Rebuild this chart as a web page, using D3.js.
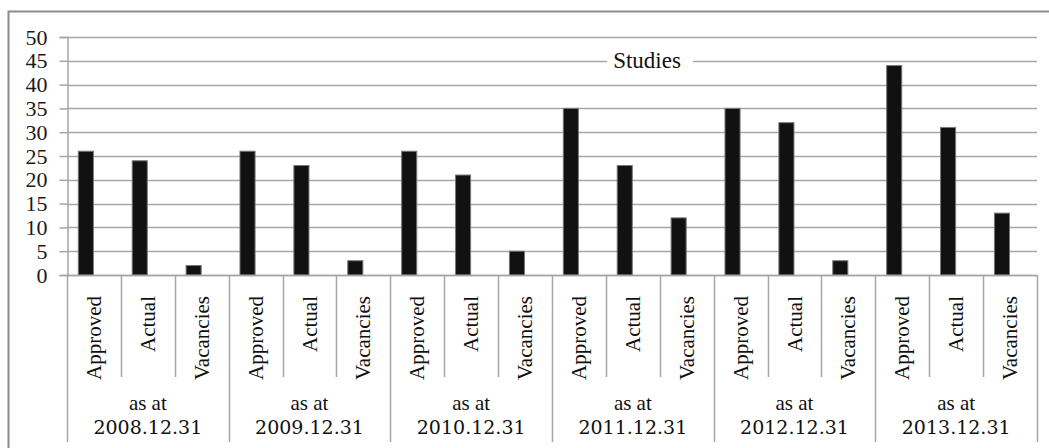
<!DOCTYPE html>
<html>
<head>
<meta charset="utf-8">
<script src="https://cdn.jsdelivr.net/npm/d3@7"></script>
<style>
  html, body { margin: 0; padding: 0; background: #fff; }
  svg { display: block; }
  .serif { font-family: 'Liberation Serif', 'DejaVu Serif', 'Times New Roman', Times, serif; }
  .dserif { font-family: 'DejaVu Serif', 'Liberation Serif', serif; }
</style>
</head>
<body>
<div id="chart"></div>
<script>
// Data
const dates = ['2008.12.31', '2009.12.31', '2010.12.31', '2011.12.31', '2012.12.31', '2013.12.31'];
const kinds = ['Approved', 'Actual', 'Vacancies'];
const approved = [26, 26, 26, 35, 35, 44];
const actual = [24, 23, 21, 23, 32, 31];
const vacancies = [2, 3, 5, 12, 3, 13];
const yTicks = [0, 5, 10, 15, 20, 25, 30, 35, 40, 45, 50];
const title = 'Studies';

const W = 1049, H = 448;
const plot = { left: 67, right: 1037, top: 37, bottom: 275 };

// flatten into 18 categories
const rows = [];
dates.forEach((d, gi) => {
    [approved, actual, vacancies].forEach((series, ki) => {
        rows.push({ key: gi + '-' + ki, group: gi, kind: kinds[ki], value: series[gi] });
    });
});

const svg = d3.select('#chart').append('svg')
    .attr('width', W)
    .attr('height', H);

// outer frame (runs off the right/bottom edge like the original)
svg.append('rect')
    .attr('x', 8.5).attr('y', 11.5)
    .attr('width', W + 10).attr('height', H + 10)
    .attr('fill', '#fff')
    .attr('stroke', '#8c8c8c')
    .attr('stroke-width', 2);

const x = d3.scaleBand()
    .domain(rows.map(r => r.key))
    .range([plot.left, plot.right])
    .padding(0);

const y = d3.scaleLinear()
    .domain([0, 50])
    .range([plot.bottom, plot.top]);

const grey = '#a6a6a6';

// gridlines
svg.append('g')
    .selectAll('line')
    .data(yTicks)
    .join('line')
    .attr('x1', plot.left)
    .attr('x2', plot.right)
    .attr('y1', d => Math.round(y(d)) + 0.5)
    .attr('y2', d => Math.round(y(d)) + 0.5)
    .attr('stroke', grey)
    .attr('stroke-width', 1.5);

// y axis
const yAxis = svg.append('g')
    .attr('transform', `translate(${plot.left + 0.5},0)`)
    .call(d3.axisLeft(y).tickValues(yTicks).tickSize(8).tickPadding(12));
yAxis.attr('font-family', null).attr('font-size', null);
yAxis.select('.domain').attr('stroke', grey).attr('stroke-width', 1.5);
yAxis.selectAll('.tick line').attr('stroke', grey).attr('stroke-width', 1.5);
yAxis.selectAll('.tick text')
    .attr('class', 'serif')
    .style('font-size', '22px')
    .attr('fill', '#1a1a1a');

// title sitting on the 45 gridline with a white backing
const titleG = svg.append('g');
titleG.append('rect')
    .attr('x', 607).attr('y', y(45) - 12)
    .attr('width', 86).attr('height', 24)
    .attr('fill', '#fff');
titleG.append('text')
    .attr('class', 'serif')
    .attr('x', 647)
    .attr('y', y(45) + 7)
    .attr('text-anchor', 'middle')
    .style('font-size', '23px')
    .attr('fill', '#111')
    .text(title);

// bars
svg.append('g')
    .selectAll('rect')
    .data(rows)
    .join('rect')
    .attr('x', d => x(d.key) + x.bandwidth() * 0.21)
    .attr('y', d => y(d.value))
    .attr('width', x.bandwidth() * 0.28)
    .attr('height', d => y(0) - y(d.value))
    .attr('fill', '#111')
    .attr('stroke', '#777')
    .attr('stroke-width', 1);

// x axis baseline
svg.append('line')
    .attr('x1', plot.left).attr('x2', plot.right)
    .attr('y1', plot.bottom + 0.5).attr('y2', plot.bottom + 0.5)
    .attr('stroke', grey).attr('stroke-width', 1.5);

// category separators (short inside groups, long between groups)
const sepG = svg.append('g');
d3.range(rows.length + 1).forEach(i => {
    const xs = i < rows.length ? x(rows[i].key) : plot.right;
    const long = i % 3 === 0;
    sepG.append('line')
        .attr('x1', Math.round(xs) + 0.5).attr('x2', Math.round(xs) + 0.5)
        .attr('y1', plot.bottom)
        .attr('y2', long ? 442 : 377)
        .attr('stroke', grey)
        .attr('stroke-width', 1.5);
});

// rotated category labels
svg.append('g')
    .selectAll('text')
    .data(rows)
    .join('text')
    .attr('class', 'serif')
    .attr('transform', d => `translate(${x(d.key) + x.bandwidth() / 2 + 7},${d.kind === 'Actual' ? 324 : 338}) rotate(-90)`)
    .attr('text-anchor', 'middle')
    .style('font-size', '21px')
    .attr('fill', '#111')
    .text(d => d.kind);

// group labels
const groupG = svg.append('g')
    .selectAll('g')
    .data(dates)
    .join('g')
    .attr('transform', (d, i) => {
        const x0 = x(i + '-0');
        const x1 = x(i + '-2') + x.bandwidth();
        return `translate(${(x0 + x1) / 2},0)`;
    });

groupG.append('text')
    .attr('class', 'serif')
    .attr('y', 410)
    .attr('text-anchor', 'middle')
    .style('font-size', '21px')
    .attr('fill', '#111')
    .text('as at');

groupG.append('text')
    .attr('class', 'dserif')
    .attr('y', 434)
    .attr('text-anchor', 'middle')
    .style('font-size', '19px')
    .attr('fill', '#111')
    .text(d => d);
</script>
</body>
</html>
